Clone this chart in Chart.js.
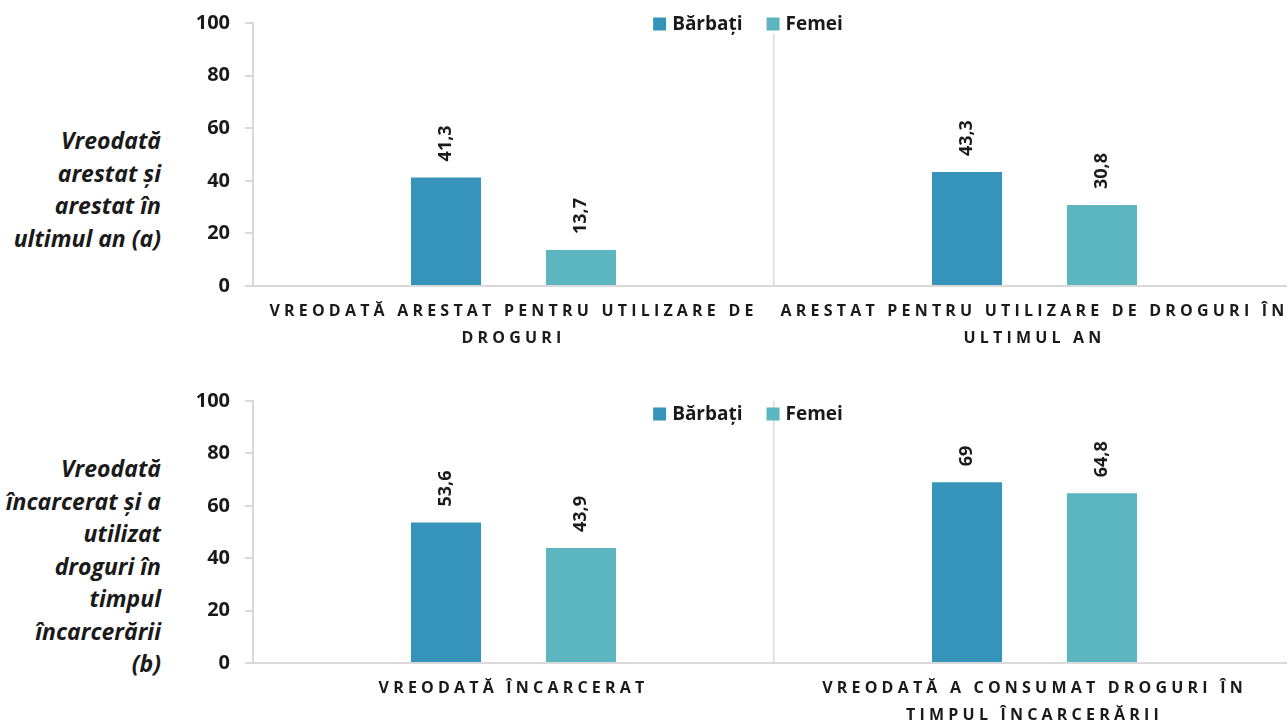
<!DOCTYPE html>
<html lang="ro">
<head>
<meta charset="utf-8">
<title>Arestări și încarcerare — bărbați și femei</title>
<script src="https://cdn.jsdelivr.net/npm/chart.js@4.4.1/dist/chart.umd.min.js"></script>
<style>
  html, body { margin: 0; padding: 0; background: #fff; width: 1287px; height: 725px; overflow: hidden; }
  canvas { position: absolute; left: 0; }
  .side {
    position: absolute; left: 0; width: 161px; text-align: right;
    font: italic 700 23px/32.5px 'Open Sans', sans-serif; color: #1a1a1a;
  }
</style>
</head>
<body>
<div class="side" style="top:124px">Vreodată<br>arestat și<br>arestat în<br>ultimul an (a)</div>
<div class="side" style="top:452px">Vreodată<br>încarcerat și a<br>utilizat<br>droguri în<br>timpul<br>încarcerării<br>(b)</div>
<canvas id="chartA" width="1295" height="376" style="top:0"></canvas>
<canvas id="chartB" width="1295" height="347" style="top:378px"></canvas>
<script>
'use strict';

// series
const seriesNames = ['Bărbați', 'Femei'];

// panel (a): arrests
const categoriesA = [
    ['VREODATĂ ARESTAT PENTRU UTILIZARE DE', 'DROGURI'],
    ['ARESTAT PENTRU UTILIZARE DE DROGURI ÎN', 'ULTIMUL AN']
];
const menA = [41.3, 43.3];
const womenA = [13.7, 30.8];

// panel (b): prison
const categoriesB = [
    ['VREODATĂ ÎNCARCERAT'],
    ['VREODATĂ A CONSUMAT DROGURI ÎN', 'TIMPUL ÎNCARCERĂRII']
];
const menB = [53.6, 69];
const womenB = [43.9, 64.8];

// y axis
const yMin = 0;
const yMax = 100;
const yStep = 20;

const palette = { men: '#3694BA', women: '#5BB6C0', axis: '#d9d9d9', text: '#1a1a1a' };
const FONT = "'Open Sans', sans-serif";

const fmt = v => String(v).replace('.', ',');

// vertical value labels above each bar
const barValueLabels = {
    id: 'barValueLabels',
    afterDatasetsDraw(chart) {
        const ctx = chart.ctx;
        ctx.save();
        ctx.font = `bold 18px ${FONT}`;
        ctx.fillStyle = palette.text;
        ctx.textAlign = 'left';
        ctx.textBaseline = 'middle';
        chart.data.datasets.forEach((ds, di) => {
            chart.getDatasetMeta(di).data.forEach((bar, i) => {
                ctx.save();
                ctx.translate(bar.x, bar.y - 16);
                ctx.rotate(-Math.PI / 2);
                ctx.fillText(fmt(ds.data[i]), 0, 0);
                ctx.restore();
            });
        });
        ctx.restore();
    }
};

// spaced-out category names under the x axis
const spacedCategoryLabels = {
    id: 'spacedCategoryLabels',
    afterDraw(chart) {
        const ctx = chart.ctx;
        const xs = chart.scales.x;
        ctx.save();
        ctx.font = `bold 16px ${FONT}`;
        ctx.letterSpacing = '4.2px';
        ctx.fillStyle = palette.text;
        ctx.textAlign = 'center';
        ctx.textBaseline = 'middle';
        chart.data.labels.forEach((lines, i) => {
            const x = xs.getPixelForValue(i);
            lines.forEach((line, k) => {
                ctx.fillText(line, x, chart.chartArea.bottom + 25 + k * 27.5);
            });
        });
        ctx.restore();
    }
};

// legend drawn over the top of the plot
const overlayLegend = {
    id: 'overlayLegend',
    afterDraw(chart, args, opts) {
        const ctx = chart.ctx;
        const box = 13;
        const y = chart.chartArea.top + opts.offsetY;
        ctx.save();
        ctx.font = `bold 19px ${FONT}`;
        ctx.textBaseline = 'middle';
        ctx.textAlign = 'left';
        const items = chart.data.datasets.map(ds => ({
            text: ds.label,
            color: ds.backgroundColor,
            w: box + 6 + ctx.measureText(ds.label).width
        }));
        const total = items.reduce((s, it) => s + it.w, 0) + 24 * (items.length - 1);
        let x = chart.chartArea.left + opts.centerX - total / 2;
        if (opts.knockout) {
            ctx.fillStyle = '#fff';
            ctx.fillRect(x - 4, y - 10, total + 8, 19);
        }
        items.forEach(it => {
            ctx.fillStyle = it.color;
            ctx.fillRect(x, y - box / 2, box, box);
            ctx.fillStyle = palette.text;
            ctx.fillText(it.text, x + box + 6, y + 1);
            x += it.w + 24;
        });
        ctx.restore();
    }
};

function makeChart(id, labels, men, women, axisHeight, legendOpts) {
    const ctx = document.getElementById(id).getContext('2d');
    return new Chart(ctx, {
        type: 'bar',
        data: {
            labels: labels,
            datasets: [
                { label: seriesNames[0], data: men, backgroundColor: palette.men },
                { label: seriesNames[1], data: women, backgroundColor: palette.women }
            ]
        },
        options: {
            responsive: false,
            animation: false,
            categoryPercentage: 0.518,
            barPercentage: 0.519,
            layout: { padding: { left: 195, top: 23, right: 0, bottom: 0 } },
            plugins: {
                legend: { display: false },
                tooltip: { enabled: false },
                overlayLegend: legendOpts
            },
            scales: {
                x: {
                    ticks: { display: false },
                    grid: { color: palette.axis, lineWidth: 1.5, drawTicks: false, offset: true },
                    border: { color: palette.axis, width: 2 },
                    afterFit(scale) { scale.height = axisHeight; }
                },
                y: {
                    min: yMin,
                    max: yMax,
                    ticks: {
                        stepSize: yStep,
                        padding: 15,
                        color: palette.text,
                        font: { family: FONT, size: 20, weight: 'bold' }
                    },
                    grid: { drawOnChartArea: false, drawTicks: true, tickLength: 8, color: palette.axis, lineWidth: 2 },
                    border: { color: palette.axis, width: 2 },
                    afterFit(scale) {
                        // fixed axis width, and no extra room for the end labels
                        scale.width = 58;
                        scale.paddingTop = 0;
                        scale.paddingBottom = 0;
                    }
                }
            }
        },
        plugins: [barValueLabels, spacedCategoryLabels, overlayLegend]
    });
}

makeChart('chartA', categoriesA, menA, womenA, 90, { offsetY: 1, centerX: 495, knockout: true });
makeChart('chartB', categoriesB, menB, womenB, 62, { offsetY: 13, centerX: 495, knockout: false });
</script>
</body>
</html>
